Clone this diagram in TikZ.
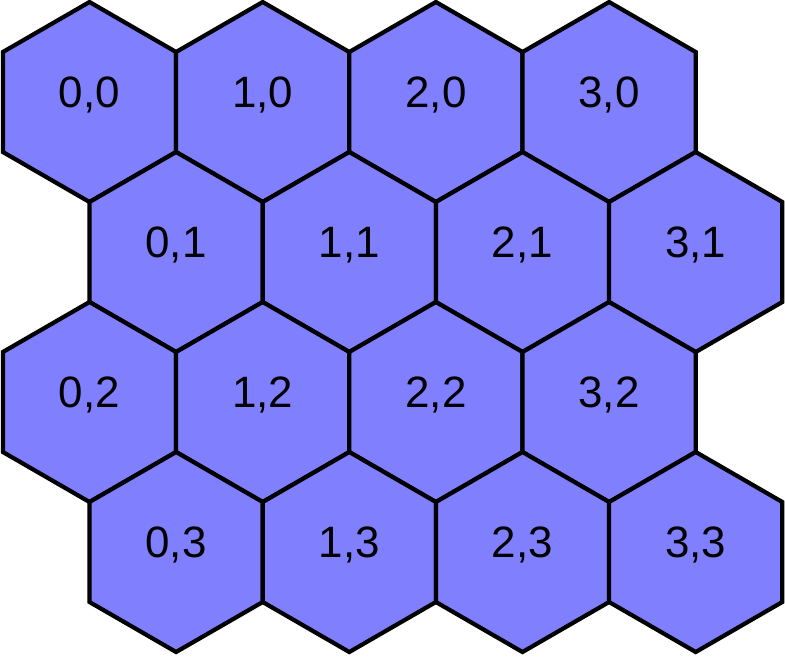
\documentclass[tikz,border=0pt]{standalone}
\usepackage{fontspec}
\setmainfont{Liberation Sans}
\usetikzlibrary{shapes.geometric}

\definecolor{hexblue}{RGB}{128,128,255}

\begin{document}
\begin{tikzpicture}[
                hexcell/.style={regular polygon,regular polygon sides=6,shape border rotate=30,
                    minimum size=4cm,inner sep=0pt,outer sep=0pt,
                    draw=black,line width=2.4pt,fill=hexblue,
                    font=\fontsize{25}{25}\selectfont,text height=0.66cm,text depth=0.46cm}
                ]
            \useasboundingbox (0,0) rectangle (15.7,-13.12);

            \node[hexcell] (h00) at (1.79,-2.04) {0,0};
            \node[hexcell] (h10) at (5.254,-2.04) {1,0};
            \node[hexcell] (h20) at (8.718,-2.04) {2,0};
            \node[hexcell] (h30) at (12.182,-2.04) {3,0};

            \node[hexcell] (h01) at (3.522,-5.04) {0,1};
            \node[hexcell] (h11) at (6.986,-5.04) {1,1};
            \node[hexcell] (h21) at (10.45,-5.04) {2,1};
            \node[hexcell] (h31) at (13.914,-5.04) {3,1};

            \node[hexcell] (h02) at (1.79,-8.04) {0,2};
            \node[hexcell] (h12) at (5.254,-8.04) {1,2};
            \node[hexcell] (h22) at (8.718,-8.04) {2,2};
            \node[hexcell] (h32) at (12.182,-8.04) {3,2};

            \node[hexcell] (h03) at (3.522,-11.04) {0,3};
            \node[hexcell] (h13) at (6.986,-11.04) {1,3};
            \node[hexcell] (h23) at (10.45,-11.04) {2,3};
            \node[hexcell] (h33) at (13.914,-11.04) {3,3};

            \end{tikzpicture}
\end{document}
